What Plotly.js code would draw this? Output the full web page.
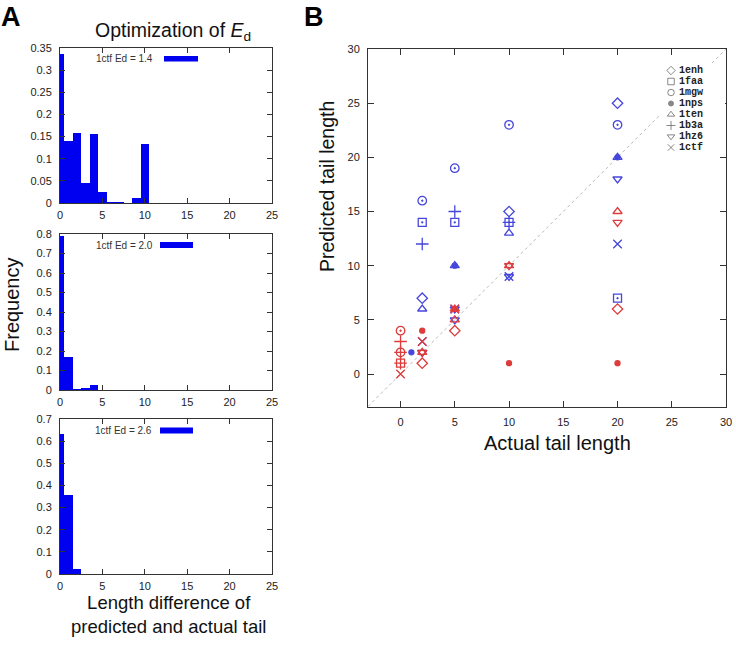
<!DOCTYPE html>
<html>
<head>
<meta charset="utf-8">
<script src="https://cdn.plot.ly/plotly-3.0.1.min.js"></script>
<style>
  html, body { margin: 0; padding: 0; background: #fff; }
  #fig { width: 736px; height: 650px; }
</style>
</head>
<body>
<div id="fig"></div>
<script>
// ---- Panel A: histograms of |predicted - actual| tail length (1ctf) ----
const histBins14 = [0, 1, 2, 3, 4, 5, 6, 7, 8, 9, 10];
const histFreq14 = [0.337, 0.139, 0.157, 0.045, 0.155, 0.024, 0.003, 0.003, 0, 0.012, 0.133];
const histBins20 = [0, 1, 2, 3, 4];
const histFreq20 = [0.79, 0.171, 0.006, 0.009, 0.027];
const histBins26 = [0, 1, 2];
const histFreq26 = [0.632, 0.355, 0.024];
const histLabels = ['1ctf Ed = 1.4', '1ctf Ed = 2.0', '1ctf Ed = 2.6'];

// ---- Panel B: predicted vs actual tail length per protein ----
const proteins = ['1enh', '1faa', '1mgw', '1nps', '1ten', '1b3a', '1hz6', '1ctf'];
// blue series
const blueActual = {
  '1enh': [2, 10, 20],
  '1faa': [2, 5, 10, 20],
  '1mgw': [2, 5, 10, 20],
  '1nps': [1, 5, 20],
  '1ten': [2, 5, 10, 20],
  '1b3a': [2, 5, 10],
  '1hz6': [2, 5, 5, 10, 20],
  '1ctf': [2, 5, 10, 20]
};
const bluePredicted = {
  '1enh': [7, 15, 25],
  '1faa': [14, 14, 14, 7],
  '1mgw': [16, 19, 23, 23],
  '1nps': [2, 10, 20],
  '1ten': [6, 10, 13, 20],
  '1b3a': [12, 15, 14],
  '1hz6': [2, 5, 6, 9, 18],
  '1ctf': [3, 6, 9, 12]
};
// red series
const redActual = {
  '1enh': [2, 5, 20],
  '1faa': [0],
  '1mgw': [0, 0],
  '1nps': [2, 5, 10, 20],
  '1ten': [2, 5, 5, 10, 20],
  '1b3a': [0, 0, 0],
  '1hz6': [2, 10, 20],
  '1ctf': [0, 2, 5]
};
const redPredicted = {
  '1enh': [1, 4, 6],
  '1faa': [1],
  '1mgw': [4, 2],
  '1nps': [4, 6, 1, 1],
  '1ten': [2, 5, 6, 10, 15],
  '1b3a': [3, 2, 1],
  '1hz6': [2, 10, 14],
  '1ctf': [0, 3, 6]
};
const diagonal = [-3, 30];

// ---- styling ----
const W = 736, H = 650;
const px = v => v / W;
const py = v => 1 - v / H;
const BAR = '#0000f0';
const BLUE = '#4646dc';
const RED = '#de3c3c';
const SANS = 'Liberation Sans, Arial, sans-serif';

const symbolOf = {
  '1enh': 'diamond-open', '1faa': 'square-open-dot', '1mgw': 'circle-open-dot',
  '1nps': 'circle', '1ten': 'triangle-up-open', '1b3a': 'cross-thin-open',
  '1hz6': 'triangle-down-open', '1ctf': 'x-thin-open'
};
const keySymbolOf = {
  '1enh': 'diamond-open', '1faa': 'square-open', '1mgw': 'circle-open',
  '1nps': 'circle', '1ten': 'triangle-up-open', '1b3a': 'cross-thin-open',
  '1hz6': 'triangle-down-open', '1ctf': 'x-thin-open'
};
const sizeOf = {
  '1enh': 8, '1faa': 8, '1mgw': 8.5, '1nps': 5, '1ten': 8, '1b3a': 9, '1hz6': 8, '1ctf': 8.5
};

const traces = [];
// histogram bars
[[histBins14, histFreq14, 'x', 'y'],
 [histBins20, histFreq20, 'x2', 'y2'],
 [histBins26, histFreq26, 'x3', 'y3']].forEach(([bx, by, xa, ya]) => {
  traces.push({
    type: 'bar', x: bx, y: by, width: 1, xaxis: xa, yaxis: ya,
    marker: { color: BAR, line: { width: 0 } }, showlegend: false, hoverinfo: 'skip'
  });
});

// scatter points
function addSeries(actual, predicted, color) {
  proteins.forEach(p => {
    traces.push({
      type: 'scatter', mode: 'markers', name: p,
      x: actual[p], y: predicted[p], xaxis: 'x4', yaxis: 'y4',
      marker: {
        symbol: symbolOf[p], size: sizeOf[p], color: color,
        line: { color: color, width: 1.3 }
      },
      showlegend: false, hoverinfo: 'skip'
    });
  });
}
addSeries(blueActual, bluePredicted, BLUE);
addSeries(redActual, redPredicted, RED);

// key for the protein symbols: symbols, then names beside them
traces.push({
  type: 'scatter', mode: 'markers',
  x: proteins.map(() => 1), y: proteins,
  xaxis: 'x5', yaxis: 'y5',
  marker: {
    symbol: proteins.map(p => keySymbolOf[p]), size: proteins.map(p => p === '1nps' ? 5 : 6.5),
    color: '#555', line: { color: '#555', width: 1 }
  },
  showlegend: false, hoverinfo: 'skip', cliponaxis: false
});
traces.push({
  type: 'scatter', mode: 'text',
  x: proteins.map(() => 1.8), y: proteins, text: proteins,
  textposition: 'middle right',
  textfont: { family: 'Liberation Mono, DejaVu Sans Mono, monospace', size: 10, color: '#222', weight: 'bold' },
  xaxis: 'x5', yaxis: 'y5',
  showlegend: false, hoverinfo: 'skip', cliponaxis: false
});

const tickFont = { family: SANS, size: 11, color: '#222' };
function histAxes(yTop, yBot, ymax, dtick) {
  return [
    { domain: [px(60), px(272)], range: [0, 25], dtick: 5, tick0: 0,
      showline: true, linecolor: '#333', linewidth: 1, mirror: 'ticks',
      ticks: 'inside', ticklen: 5, tickcolor: '#333', showgrid: false, zeroline: false,
      tickfont: tickFont, ticklabelstandoff: 2 },
    { domain: [py(yBot), py(yTop)], range: [0, ymax], dtick: dtick, tick0: 0,
      showline: true, linecolor: '#333', linewidth: 1, mirror: 'ticks',
      ticks: 'inside', ticklen: 5, tickcolor: '#333', showgrid: false, zeroline: false,
      tickfont: tickFont, ticklabelstandoff: 5 }
  ];
}
const [xa1, ya1] = histAxes(48, 203, 0.35, 0.05);
const [xa2, ya2] = histAxes(234, 390, 0.8, 0.1);
const [xa3, ya3] = histAxes(419, 574, 0.7, 0.1);
xa1.anchor = 'y'; ya1.anchor = 'x';
xa2.anchor = 'y2'; ya2.anchor = 'x2';
xa3.anchor = 'y3'; ya3.anchor = 'x3';

const layout = {
  width: W, height: H,
  margin: { l: 0, r: 0, t: 0, b: 0 },
  paper_bgcolor: '#fff', plot_bgcolor: '#fff',
  showlegend: false,
  bargap: 0,
  xaxis: xa1, yaxis: ya1,
  xaxis2: xa2, yaxis2: ya2,
  xaxis3: xa3, yaxis3: ya3,
  xaxis4: {
    domain: [px(368), px(726)], range: [-3, 30], dtick: 5, tick0: 0, anchor: 'y4',
    showline: true, linecolor: '#333', linewidth: 1, mirror: 'ticks',
    ticks: 'inside', ticklen: 6, tickcolor: '#333', showgrid: false, zeroline: false,
    tickfont: tickFont, ticklabelstandoff: 5
  },
  yaxis4: {
    domain: [py(406.5), py(49)], range: [-3, 30], dtick: 5, tick0: 0, anchor: 'x4',
    showline: true, linecolor: '#333', linewidth: 1, mirror: 'ticks',
    ticks: 'inside', ticklen: 6, tickcolor: '#333', showgrid: false, zeroline: false,
    tickfont: tickFont, ticklabelstandoff: 5
  },
  xaxis5: { domain: [px(661), px(725)], range: [0, 6.4], visible: false, anchor: 'y5', fixedrange: true },
  yaxis5: {
    domain: [py(153), py(65)], type: 'category', categoryarray: proteins,
    categoryorder: 'array', range: [7.5, -0.5], visible: false, anchor: 'x5', fixedrange: true
  },
  shapes: [
    { type: 'line', xref: 'x4', yref: 'y4', x0: diagonal[0], y0: diagonal[0], x1: diagonal[1], y1: diagonal[1],
      line: { color: '#b8b8b8', width: 1, dash: 'dot' }, layer: 'below' },
    { type: 'rect', xref: 'paper', yref: 'paper', x0: px(164), x1: px(198), y0: py(61.5), y1: py(56),
      fillcolor: BAR, line: { width: 0 } },
    { type: 'rect', xref: 'paper', yref: 'paper', x0: px(160), x1: px(193), y0: py(248), y1: py(242),
      fillcolor: BAR, line: { width: 0 } },
    { type: 'rect', xref: 'paper', yref: 'paper', x0: px(160), x1: px(193), y0: py(433.5), y1: py(427.5),
      fillcolor: BAR, line: { width: 0 } }
  ],
  annotations: [
    { text: '<b>A</b>', x: px(-1), y: py(17), xref: 'paper', yref: 'paper', xanchor: 'left', yanchor: 'middle',
      showarrow: false, font: { family: SANS, size: 27, color: '#000' } },
    { text: '<b>B</b>', x: px(302), y: py(17), xref: 'paper', yref: 'paper', xanchor: 'left', yanchor: 'middle',
      showarrow: false, font: { family: SANS, size: 27, color: '#000' } },
    { text: 'Optimization of <i>E</i><sub>d</sub>', x: px(173), y: py(31), xref: 'paper', yref: 'paper',
      xanchor: 'center', yanchor: 'middle', showarrow: false, font: { family: SANS, size: 19.5, color: '#111' } },
    { text: 'Frequency', x: px(12), y: py(305), xref: 'paper', yref: 'paper', textangle: -90,
      xanchor: 'center', yanchor: 'middle', showarrow: false, font: { family: SANS, size: 20, color: '#111' } },
    { text: 'Length difference of<br>predicted and actual tail', x: px(168), y: py(614), xref: 'paper', yref: 'paper',
      xanchor: 'center', yanchor: 'middle', showarrow: false, font: { family: SANS, size: 18.5, color: '#111' } },
    { text: 'Actual tail length', x: px(557), y: py(443), xref: 'paper', yref: 'paper',
      xanchor: 'center', yanchor: 'middle', showarrow: false, font: { family: SANS, size: 20, color: '#111' } },
    { text: 'Predicted tail length', x: px(327), y: py(187), xref: 'paper', yref: 'paper', textangle: -90,
      xanchor: 'center', yanchor: 'middle', showarrow: false, font: { family: SANS, size: 19.5, color: '#111' } },
    { text: histLabels[0], x: px(155), y: py(58.5), xref: 'paper', yref: 'paper', xanchor: 'right', yanchor: 'middle',
      showarrow: false, font: { family: SANS, size: 10, color: '#333' } },
    { text: histLabels[1], x: px(155), y: py(245), xref: 'paper', yref: 'paper', xanchor: 'right', yanchor: 'middle',
      showarrow: false, font: { family: SANS, size: 10, color: '#333' } },
    { text: histLabels[2], x: px(154), y: py(430.5), xref: 'paper', yref: 'paper', xanchor: 'right', yanchor: 'middle',
      showarrow: false, font: { family: SANS, size: 10, color: '#333' } }
  ]
};

Plotly.newPlot('fig', traces, layout, { displayModeBar: false, staticPlot: true });
</script>
</body>
</html>
